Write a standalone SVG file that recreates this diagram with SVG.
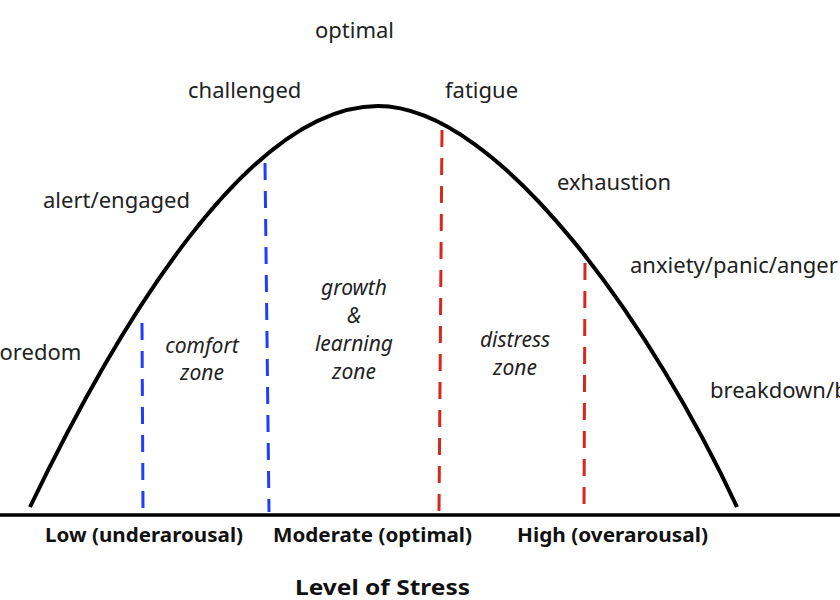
<svg xmlns="http://www.w3.org/2000/svg" width="840" height="600" viewBox="0 0 840 600">
<style>
.lbl{font-family:"Noto Sans","Liberation Sans",sans-serif;font-size:22px;fill:#222;}
.zone{font-family:"Noto Sans","Liberation Sans",sans-serif;font-size:21px;font-style:italic;fill:#222;text-anchor:middle;}
.ax{font-family:"Noto Sans","Liberation Sans",sans-serif;font-size:20px;font-weight:bold;fill:#111;}
.title{font-family:"Noto Sans","Liberation Sans",sans-serif;font-size:22px;font-weight:bold;fill:#111;}
.blue{stroke:#1f3cff;stroke-width:3;stroke-dasharray:17 11;fill:none;}
.red{stroke:#d8271c;stroke-width:3;stroke-dasharray:17 11;fill:none;}
</style>
<rect width="840" height="600" fill="#ffffff"/>
<g id="curve">
<path d="M30 507 C120 320 250 106 378 106 C500 106 655 330 737 507" fill="none" stroke="#000" stroke-width="4"/>
</g>
<g id="connectors">
<line class="blue" x1="142" y1="323" x2="143" y2="512"/>
<line class="blue" x1="265" y1="163" x2="269" y2="512"/>
<line class="red" x1="442" y1="130" x2="439" y2="512"/>
<line class="red" x1="585" y1="263" x2="584" y2="512"/>
</g>
<g id="axis">
<line x1="0" y1="515" x2="840" y2="515" stroke="#000" stroke-width="3.5"/>
</g>
<g id="curve-labels">
<text class="lbl" x="315" y="38">optimal</text>
<text class="lbl" x="188" y="98">challenged</text>
<text class="lbl" x="43" y="208">alert/engaged</text>
<text class="lbl" x="-14" y="360">boredom</text>
<text class="lbl" x="445" y="98">fatigue</text>
<text class="lbl" x="557" y="190">exhaustion</text>
<text class="lbl" x="630" y="273">anxiety/panic/anger</text>
<text class="lbl" x="710" y="398">breakdown/burnout</text>
</g>
<g id="zone-comfort">
<text class="zone" x="202" y="353">comfort</text>
<text class="zone" x="202" y="380">zone</text>
</g>
<g id="zone-growth">
<text class="zone" x="354" y="295">growth</text>
<text class="zone" x="354" y="323">&amp;</text>
<text class="zone" x="354" y="351">learning</text>
<text class="zone" x="354" y="379">zone</text>
</g>
<g id="zone-distress">
<text class="zone" x="515" y="347">distress</text>
<text class="zone" x="515" y="375">zone</text>
</g>
<g id="axis-labels">
<text class="ax" x="45" y="542" textLength="198" lengthAdjust="spacingAndGlyphs">Low (underarousal)</text>
<text class="ax" x="273" y="542" textLength="199" lengthAdjust="spacingAndGlyphs">Moderate (optimal)</text>
<text class="ax" x="517" y="542" textLength="191" lengthAdjust="spacingAndGlyphs">High (overarousal)</text>
<text class="title" x="295" y="595" textLength="175" lengthAdjust="spacingAndGlyphs">Level of Stress</text>
</g>
</svg>
